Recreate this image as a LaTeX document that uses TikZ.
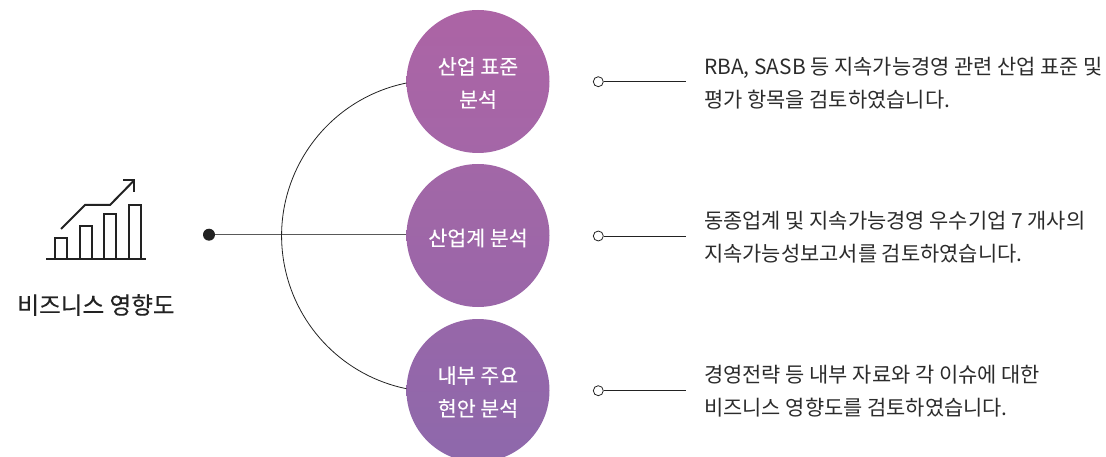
\documentclass[tikz,border=0pt]{standalone}
\usepackage{fontspec}
\setmainfont{Noto Sans CJK KR}
\newfontfamily\medfont[FakeBold=0.3]{Noto Sans CJK KR}
\definecolor{ink}{HTML}{222222}
\definecolor{txt}{HTML}{2B2B2B}
\definecolor{ca}{HTML}{AC64A5}
\definecolor{cb}{HTML}{A466A7}
\definecolor{cc}{HTML}{A267A7}
\definecolor{cd}{HTML}{9A66A8}
\definecolor{ce}{HTML}{9767A9}
\definecolor{cf}{HTML}{8E68AB}
\begin{document}
\begin{tikzpicture}[x=1pt,y=-1pt,
  bub/.style={circle,minimum size=143pt,inner sep=0pt},
  bubtxt/.style={text=white,align=center,inner sep=0pt,font=\medfont\fontsize{20.6}{33}\selectfont},
  desc/.style={anchor=west,align=left,inner sep=0pt,text=txt,font=\fontsize{20.9}{33}\selectfont},
  ring/.style={circle,draw=ink,fill=white,line width=.8pt,minimum size=10pt,inner sep=0pt},
  lead/.style={draw=ink,line width=.8pt},
  ico/.style={draw=ink,line width=2pt}]
\useasboundingbox (0,0) rectangle (1106,457);
\begin{scope}
\clip (0,0) rectangle (1106,457);
\node[bub,top color=ca,bottom color=cb] (t) at (478,81.5) {};
\node[bub,top color=cc,bottom color=cd] (m) at (478,235.5) {};
\node[bub,top color=ce,bottom color=cf] (b) at (478,390.5) {};
\end{scope}
\node[bubtxt] (tt) at (478,83) {산업 표준\\분석};
\node[bubtxt] (mt) at (478,238) {산업계 분석};
\node[bubtxt] (bt) at (478,392) {내부 주요\\현안 분석};
% hub and connectors
\node[circle,fill=ink,minimum size=12pt,inner sep=0pt] (hub) at (209,234.7) {};
\draw[draw=ink!75,line width=.9pt] (hub) -- (m.west |- hub);
\coordinate (ta) at (406.5,83);
\draw[lead] (ta) arc[start angle=101.5,end angle=258.5,radius=156pt];
% rings and leader lines
\node[ring] (r1) at (598.3,81.7) {};
\node[ring] (r2) at (598.3,236) {};
\node[ring] (r3) at (598.3,390.7) {};
\coordinate (e1) at (685.7,81.7);
\coordinate (e2) at (685.7,236);
\coordinate (e3) at (685.7,390.7);
\draw[lead] (r1) -- (e1);
\draw[lead] (r2) -- (e2);
\draw[lead] (r3) -- (e3);
% descriptions
\node[desc] (d1) at (704,83.5) {RBA, SASB 등 지속가능경영 관련 산업 표준 및\\평가 항목을 검토하였습니다.};
\node[desc] (d2) at (704,237.5) {동종업계 및 지속가능경영 우수기업 7 개사의\\지속가능성보고서를 검토하였습니다.};
\node[desc] (d3) at (704,391.5) {경영전략 등 내부 자료와 각 이슈에 대한\\비즈니스 영향도를 검토하였습니다.};
% icon
\draw[ico] (46,259) -- (146,259);
\draw[ico] (54.5,259) |- (66.5,237.7) -- (66.5,259);
\draw[ico] (79.5,259) |- (91.5,226) -- (91.5,259);
\draw[ico] (103.5,259) |- (115.5,214) -- (115.5,259);
\draw[ico] (128.5,259) |- (140.5,205) -- (140.5,259);
\draw[ico] (61,229) -- (85,205) -- (110,205) -- (134,180.5);
\draw[ico] (123,180.5) -- (134,180.5) -- (134,192);
\node[inner sep=0pt,text=ink,font=\medfont\fontsize{23.6}{28}\selectfont] (lbl) at (96,305) {비즈니스 영향도};
\end{tikzpicture}
\end{document}
